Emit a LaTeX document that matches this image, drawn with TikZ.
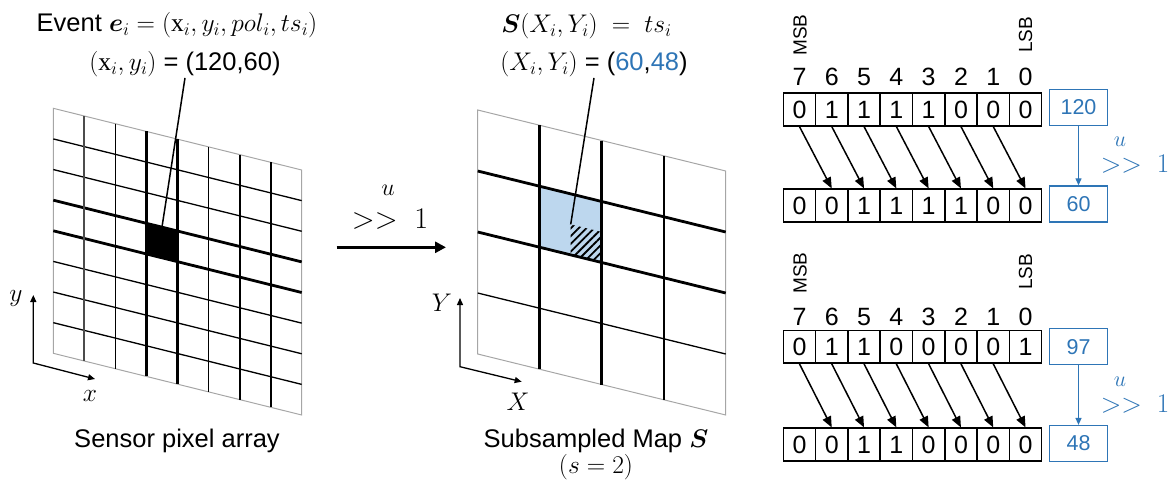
\RequirePackage{fix-cm}
\documentclass[tikz,border=0pt]{standalone}
\usepackage{amsmath}
\usepackage{bm}
\usepackage{fontspec}
\setmainfont{Liberation Sans}
\setmathrm{Liberation Serif}
\usetikzlibrary{arrows.meta,patterns.meta}
\definecolor{cblue}{HTML}{2E75B6}
\definecolor{lblue}{HTML}{BDD7EE}
\definecolor{ggray}{HTML}{A6A6A6}
\tikzset{
  every node/.style={font=\fontsize{25.5}{30}\selectfont, inner sep=1pt},
  gborder/.style={draw=ggray, line width=1pt},
  hthin/.style={line width=1.3pt},
  vnorm/.style={line width=1.8pt},
  gthick/.style={line width=2.8pt},
  bit/.style={draw, line width=1.5pt, minimum width=32.3pt, minimum height=32.6pt, inner sep=0pt, font=\fontsize{25}{25}\selectfont},
  bitlbl/.style={font=\fontsize{25}{25}\selectfont, inner sep=0pt},
  sblbl/.style={rotate=90, font=\fontsize{19}{20}\selectfont, inner sep=0pt},
  vbox/.style={draw=cblue, line width=1.2pt, text=cblue, minimum width=58.4pt, minimum height=36pt, inner sep=0pt, font=\fontsize{21.5}{22}\selectfont},
  barrow/.style={line width=1.5pt, -{Triangle[length=11pt,width=9pt]}},
  varrow/.style={draw=cblue, line width=1.3pt, -{Triangle[length=7pt,width=6pt]}},
  axisline/.style={line width=1.3pt, {Triangle[length=7pt,width=6pt]}-{Triangle[length=7pt,width=6pt]}},
  leader/.style={line width=1.5pt},
  shtxt/.style={font=\fontsize{30}{32}\selectfont, inner sep=0pt},
  utxt/.style={font=\fontsize{24}{26}\selectfont, inner sep=0pt},
  bshtxt/.style={text=cblue, font=\fontsize{27}{29}\selectfont, inner sep=0pt},
  butxt/.style={text=cblue, font=\fontsize{22}{24}\selectfont, inner sep=0pt},
}
\begin{document}
\begin{tikzpicture}[x=1pt,y=-1pt]
\useasboundingbox (0,0) rectangle (1171,488);

% ---------------- left grid: sensor pixel array ----------------
\begin{scope}[shift={(53.3,108.3)}, x={(248.4pt,-61.7pt)}, y={(0pt,-245pt)}]
  \fill[black] (0.375,0.375) -- (0.5,0.375) -- (0.5,0.5) -- (0.375,0.5) -- cycle;
  \draw[gborder] (0,0) -- (1,0) -- (1,1) -- (0,1) -- cycle;
  \foreach \k in {1,2,5,6,7} \draw[hthin] (0,\k/8) -- (1,\k/8);
  \foreach \k in {3,4} \draw[gthick] (0,\k/8) -- (1,\k/8);
  \draw[vnorm, black!70] (1/8,0) -- (1/8,1);
  \foreach \k in {2,5,6,7} \draw[vnorm] (\k/8,0) -- (\k/8,1);
  \foreach \k in {3,4} \draw[gthick] (\k/8,0) -- (\k/8,1);
  \coordinate (p1) at (0.4375,0.375);
\end{scope}

% ---------------- middle grid: subsampled map ----------------
\begin{scope}[shift={(477.7,110)}, x={(248pt,-61pt)}, y={(0pt,-244pt)}]
  \fill[lblue] (0.25,0.25) -- (0.5,0.25) -- (0.5,0.5) -- (0.25,0.5) -- cycle;
  \fill[pattern={Lines[angle=45,distance=5.5pt,line width=1.8pt]}] (0.375,0.375) -- (0.5,0.375) -- (0.5,0.5) -- (0.375,0.5) -- cycle;
  \draw[gborder] (0,0) -- (1,0) -- (1,1) -- (0,1) -- cycle;
  \foreach \k in {1,2} \draw[gthick] (0,\k/4) -- (1,\k/4);
  \draw[hthin] (0,3/4) -- (1,3/4);
  \foreach \k in {1,2} \draw[gthick] (\k/4,0) -- (\k/4,1);
  \draw[line width=2.2pt] (3/4,0) -- (3/4,1);
  \coordinate (p2) at (0.375,0.375);
\end{scope}

% ---------------- texts above grids ----------------
\node (ev) at (177,25) {Event $\bm{e}_i = (\mathrm{x}_i, y_i, pol_i, ts_i)$};
\node (xy) at (185,64) {$(\mathrm{x}_i, y_i)$ = (120,60)};
\draw[leader] (xy.south) -- (p1);

\node (smap) at (586.5,26) {$\bm{S}(X_i,Y_i)\ =\ ts_i$};
\node (XY) at (594,64) {$(X_i,Y_i)$ = (\textcolor{cblue}{60},\textcolor{cblue}{48})};
\draw[leader] (XY.south) -- (p2);

% ---------------- axes ----------------
\coordinate (o1) at (33.3,363);
\coordinate (ay1) at (33.3,295);
\coordinate (ax1) at (95,379);
\draw[axisline] (ay1) -- (o1) -- (ax1);
\node (ly) at (16,298) {$y$};
\node (lx) at (90,396) {$x$};

\coordinate (o2) at (460,366.7);
\coordinate (ay2) at (460,298);
\coordinate (ax2) at (521.7,381.7);
\draw[axisline] (ay2) -- (o2) -- (ax2);
\node (lY) at (442,303) {$Y$};
\node (lX) at (518,402) {$X$};

% ---------------- captions ----------------
\node (cap1) at (177,441) {Sensor pixel array};
\node (cap2) at (596,441) {Subsampled Map $\bm{S}$};
\node (cap3) at (596,467) {$(s = 2)$};

% ---------------- middle arrow ----------------
\coordinate (m1) at (336.7,247.3);
\coordinate (m2) at (446,247.3);
\draw[line width=3pt, -{Triangle[length=11pt,width=11pt]}] (m1) -- (m2);
\node[utxt] (u0) at (388,190) {$u$};
\node[shtxt] (shl) at (390,219) {$>>\ 1$};

% ---------------- bit registers, group 1 ----------------
\node[sblbl] (msb1) at (800,35) {MSB};
\node[sblbl] (lsb1) at (1025.5,35) {LSB};
\foreach \d [count=\i from 0] in {7,6,5,4,3,2,1,0}
  \node[bitlbl] (n1\i) at ({799.45+32.3*\i},76.7) {\d};
\foreach \b [count=\i from 0] in {0,1,1,1,1,0,0,0}
  \node[bit] (ta\i) at ({799.45+32.3*\i},109.5) {\b};
\foreach \b [count=\i from 0] in {0,0,1,1,1,1,0,0}
  \node[bit] (tb\i) at ({799.45+32.3*\i},205.5) {\b};
\foreach \i [evaluate=\i as \j using int(\i+1)] in {0,...,6}
  \draw[barrow] (ta\i.south) -- (tb\j.north);
\node[vbox] (v120) at (1078.5,107.5) {120};
\node[vbox] (v60) at (1078.5,203.9) {60};
\draw[varrow] (v120.south) -- (v60.north);
\node[butxt] (u1) at (1120,142) {$u$};
\node[bshtxt] (sh1) at (1135,164) {$>>\ 1$};

% ---------------- bit registers, group 2 ----------------
\node[sblbl] (msb2) at (800,273) {MSB};
\node[sblbl] (lsb2) at (1025.5,272) {LSB};
\foreach \d [count=\i from 0] in {7,6,5,4,3,2,1,0}
  \node[bitlbl] (n2\i) at ({799.45+32.3*\i},316.7) {\d};
\foreach \b [count=\i from 0] in {0,1,1,0,0,0,0,1}
  \node[bit] (sa\i) at ({799.45+32.3*\i},346.8) {\b};
\foreach \b [count=\i from 0] in {0,0,1,1,0,0,0,0}
  \node[bit] (sb\i) at ({799.45+32.3*\i},444.5) {\b};
\foreach \i [evaluate=\i as \j using int(\i+1)] in {0,...,6}
  \draw[barrow] (sa\i.south) -- (sb\j.north);
\node[vbox] (v97) at (1078.5,346.8) {97};
\node[vbox] (v48) at (1078.5,443.5) {48};
\draw[varrow] (v97.south) -- (v48.north);
\node[butxt] (u2) at (1120,382) {$u$};
\node[bshtxt] (sh2) at (1135,404) {$>>\ 1$};
\end{tikzpicture}
\end{document}
